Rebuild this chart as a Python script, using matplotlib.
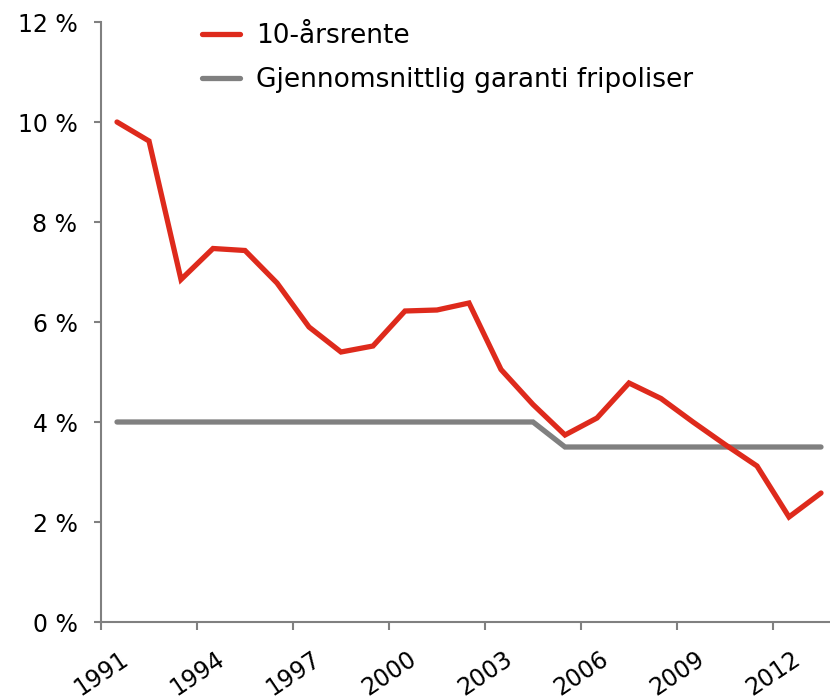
import numpy as np
import matplotlib.pyplot as plt
import matplotlib.transforms as mtrans

# years and series (values in %)
years = list(range(1991, 2014))
rente10 = [10.0, 9.62, 6.85, 7.47, 7.43, 6.78, 5.90, 5.40, 5.52, 6.22, 6.24, 6.38,
           5.05, 4.35, 3.74, 4.08, 4.78, 4.47, 4.00, 3.55, 3.12, 2.10, 2.58]
garanti = [4.0] * 14 + [3.5] * 9
tick_years = [1991, 1994, 1997, 2000, 2003, 2006, 2009, 2012]
yticks = [0, 2, 4, 6, 8, 10, 12]

red = '#DE2A1C'
grey = '#808080'

fig = plt.figure(figsize=(8.30, 6.99), dpi=100)
ax = fig.add_axes([101/830, 1 - 622/699, 729/830, 600/699])

# categorical axis: each year occupies one slot, points drawn at the slot centre
x = np.arange(len(years)) + 0.5
ax.plot(x, rente10, color=red, lw=3.8, solid_capstyle='round', solid_joinstyle='miter',
        label='10-årsrente', zorder=3)
ax.plot(x, garanti, color=grey, lw=3.8, solid_capstyle='round', solid_joinstyle='miter',
        label='Gjennomsnittlig garanti fripoliser', zorder=2)

ax.set_xlim(0, 729/32)
ax.set_ylim(0, 12)

ax.set_yticks(yticks)
ax.set_yticklabels([f'{v} %' for v in yticks], fontsize=17)
ax.set_xticks([years.index(y) for y in tick_years])
ax.set_xticklabels([str(y) for y in tick_years], fontsize=17, rotation=34,
                   ha='center')
# excel puts the rotated labels a bit left of the tick
shift = mtrans.ScaledTranslation(-10/100, 0, fig.dpi_scale_trans)
for lab in ax.get_xticklabels():
    lab.set_transform(lab.get_transform() + shift)

for s in ['top', 'right']:
    ax.spines[s].set_visible(False)
for s in ['left', 'bottom']:
    ax.spines[s].set_color(grey)
    ax.spines[s].set_linewidth(1.5)

ax.tick_params(axis='y', direction='out', length=5, width=1.5, color=grey, pad=12)
ax.tick_params(axis='x', direction='out', length=6, width=1.5, color=grey, pad=12)

leg = ax.legend(loc='upper left', bbox_to_anchor=(178/830, 1 + 1/699),
                bbox_transform=fig.transFigure, frameon=False, fontsize=19,
                handlelength=1.45, handletextpad=0.6, labelspacing=0.7)

fig.savefig('out.png', dpi=100)
